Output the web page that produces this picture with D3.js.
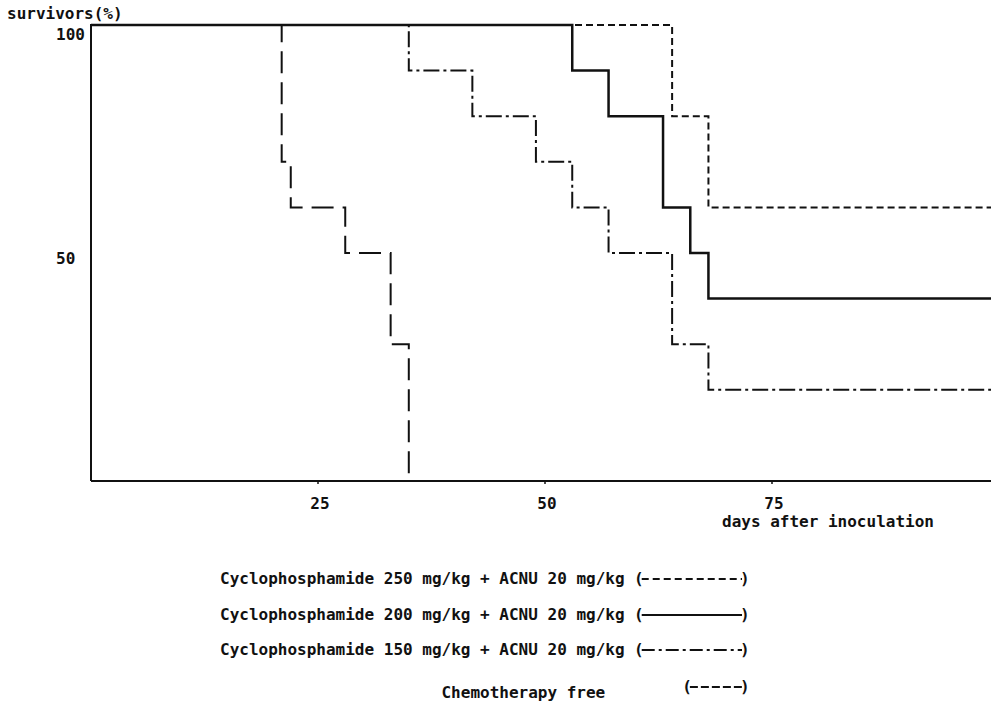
<!DOCTYPE html>
<html>
<head>
<meta charset="utf-8">
<script src="https://cdn.jsdelivr.net/npm/d3@7"></script>
<style>
  html, body { margin: 0; padding: 0; background: #fff; }
  svg { display: block; }
  text { font-family: 'DejaVu Sans Mono', monospace; font-size: 16px; font-weight: bold; fill: #111; }
</style>
</head>
<body>
<div id="chart"></div>
<script>
const width = 991, height = 707;

// step data: day of each drop, survivors (%) from that day on
const days250 = [0, 64, 68];
const surv250 = [100, 80, 60];
const days200 = [0, 53, 57, 63, 66, 68];
const surv200 = [100, 90, 80, 60, 50, 40];
const days150 = [0, 35, 42, 49, 53, 57, 64, 68];
const surv150 = [100, 90, 80, 70, 60, 50, 30, 20];
const daysFree = [0, 21, 22, 28, 33, 35];
const survFree = [100, 70, 60, 50, 30, 0];
const lastDay = 100;

const xTicks = [25, 50, 75];
const yTicks = [100, 50];

const legendLabels = [
    'Cyclophosphamide 250 mg/kg + ACNU 20 mg/kg',
    'Cyclophosphamide 200 mg/kg + ACNU 20 mg/kg',
    'Cyclophosphamide 150 mg/kg + ACNU 20 mg/kg',
    'Chemotherapy free'
];

const x = d3.scaleLinear().domain([0, 100]).range([91, 999]);
const y = d3.scaleLinear().domain([0, 100]).range([481, 25]);

const svg = d3.select('#chart').append('svg')
    .attr('width', width)
    .attr('height', height);

function toPoints(days, surv) {
    let pts = days.map((d, i) => [d, surv[i]]);
    let last = surv[surv.length - 1];
    if (last > 0) pts.push([lastDay, last]);
    return pts;
}

// drawing order: solid goes last so it sits on top
const series = [
    { pts: toPoints(daysFree, survFree), dash: '22,9', w: 2 },
    { pts: toPoints(days150, surv150), dash: '16,4,3,4', w: 2 },
    { pts: toPoints(days250, surv250), dash: '7,4', w: 2 },
    { pts: toPoints(days200, surv200), dash: null, w: 2.5 }
];

// legend samples look like typed dashes, order matches legendLabels
const legendDash = ['7,4', null, '13,4,3,4', '8,3'];

const line = d3.line()
    .x(d => x(d[0]))
    .y(d => y(d[1]))
    .curve(d3.curveStepAfter);

// axes
svg.append('line')
    .attr('x1', x(0)).attr('x2', x(0))
    .attr('y1', y(100) - 1).attr('y2', y(0))
    .attr('stroke', '#111').attr('stroke-width', 2);
svg.append('line')
    .attr('x1', x(0)).attr('x2', width)
    .attr('y1', y(0)).attr('y2', y(0))
    .attr('stroke', '#111').attr('stroke-width', 2);

svg.selectAll('.xtick').data(xTicks).enter().append('line')
    .attr('x1', d => x(d)).attr('x2', d => x(d))
    .attr('y1', y(0)).attr('y2', y(0) + 3)
    .attr('stroke', '#111').attr('stroke-width', 1.5);

svg.selectAll('.xlabel').data(xTicks).enter().append('text')
    .attr('x', d => x(d) + 2)
    .attr('y', 509)
    .attr('text-anchor', 'middle')
    .text(d => d);

svg.selectAll('.ylabel').data(yTicks).enter().append('text')
    .attr('x', 56)
    .attr('y', d => y(d) + (d == 100 ? 15 : 11))
    .text(d => d);

svg.append('text').attr('x', 7).attr('y', 19).text('survivors(%)');
svg.append('text').attr('x', 722).attr('y', 527).text('days after inoculation');

// curves
svg.selectAll('.curve').data(series).enter().append('path')
    .attr('d', d => line(d.pts))
    .attr('fill', 'none')
    .attr('stroke', '#111')
    .attr('stroke-width', d => d.w)
    .attr('stroke-dasharray', d => d.dash);

// legend
const cw = 9.63, lx = 220;
const legendRows = [
    { col: 0, y: 584, pcol: 43, py: 584 },
    { col: 0, y: 620, pcol: 43, py: 620 },
    { col: 0, y: 655, pcol: 43, py: 655 },
    { col: 23, y: 698, pcol: 48, py: 692 }
];

legendLabels.forEach((lab, i) => {
    let r = legendRows[i];
    svg.append('text').attr('x', lx + r.col * cw).attr('y', r.y).text(lab);
    svg.append('text').attr('x', lx + r.pcol * cw).attr('y', r.py).text('(');
    svg.append('text').attr('x', lx + 54 * cw).attr('y', r.py).text(')');
    svg.append('line')
        .attr('x1', lx + (r.pcol + 1) * cw - 2)
        .attr('x2', lx + 54 * cw + 2)
        .attr('y1', r.py - 5).attr('y2', r.py - 5)
        .attr('stroke', '#111')
        .attr('stroke-width', i == 1 ? 2 : 1.8)
        .attr('stroke-dasharray', legendDash[i]);
});
</script>
</body>
</html>
